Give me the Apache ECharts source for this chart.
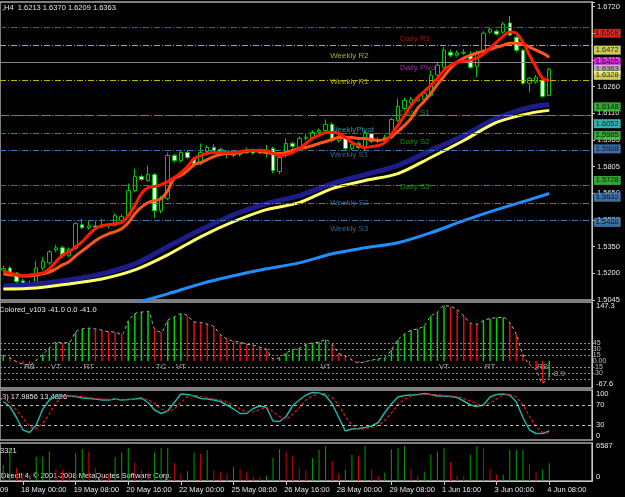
<!DOCTYPE html>
<html>
<head>
<meta charset="utf-8">
<script src="https://cdn.jsdelivr.net/npm/echarts@6/dist/echarts.min.js"></script>
<style>
  html, body { margin: 0; padding: 0; background: #000; }
  #chart { width: 625px; height: 497px; }
</style>
</head>
<body>
<div id="chart"></div>
<script>
// H4 candles
const opens = [1.5215,1.5228,1.5198,1.5154,1.5138,1.5142,1.5228,1.5257,1.5330,1.5343,
  1.5300,1.5340,1.5475,1.5458,1.5468,1.5462,1.5475,1.5472,1.5500,1.5526,
  1.5670,1.5750,1.5727,1.5761,1.5555,1.5624,1.5870,1.5841,1.5887,1.5853,
  1.5824,1.5893,1.5916,1.5905,1.5887,1.5880,1.5875,1.5887,1.5899,1.5885,
  1.5895,1.5910,1.5778,1.5870,1.5939,1.5916,1.5968,1.5973,1.6002,1.6013,
  1.6048,1.5956,1.5968,1.5910,1.5939,1.5910,1.5995,1.5950,1.5960,1.5973,
  1.6071,1.6139,1.6174,1.6185,1.6191,1.6214,1.6329,1.6374,1.6460,1.6443,
  1.6455,1.6440,1.6380,1.6455,1.6575,1.6580,1.6575,1.6627,1.6546,1.6472,
  1.6283,1.6289,1.6300,1.6213];
const highs = [1.5240,1.5240,1.5205,1.5165,1.5155,1.5268,1.5290,1.5330,1.5360,1.5355,
  1.5345,1.5490,1.5510,1.5495,1.5500,1.5510,1.5485,1.5540,1.5535,1.5710,
  1.5795,1.5760,1.5813,1.5770,1.5640,1.5887,1.5880,1.5895,1.5900,1.5860,
  1.5939,1.5930,1.5935,1.5915,1.5900,1.5895,1.5900,1.5915,1.5910,1.5912,
  1.5930,1.5920,1.5870,1.5968,1.5950,1.5980,1.5990,1.6015,1.6025,1.6076,
  1.6060,1.5990,1.5975,1.5945,1.5950,1.6010,1.6000,1.5975,1.5990,1.6085,
  1.6197,1.6200,1.6205,1.6210,1.6240,1.6357,1.6400,1.6490,1.6475,1.6470,
  1.6478,1.6465,1.6470,1.6580,1.6600,1.6590,1.6633,1.6667,1.6555,1.6480,
  1.6320,1.6330,1.6310,1.6370];
const lows = [1.5205,1.5195,1.5140,1.5128,1.5128,1.5135,1.5215,1.5245,1.5318,1.5285,
  1.5290,1.5332,1.5450,1.5448,1.5450,1.5455,1.5455,1.5465,1.5490,1.5520,
  1.5660,1.5725,1.5720,1.5515,1.5540,1.5615,1.5830,1.5830,1.5850,1.5810,
  1.5815,1.5885,1.5890,1.5875,1.5855,1.5860,1.5865,1.5880,1.5875,1.5878,
  1.5860,1.5770,1.5765,1.5860,1.5910,1.5905,1.5955,1.5965,1.5995,1.6005,
  1.5945,1.5945,1.5900,1.5900,1.5905,1.5900,1.5940,1.5940,1.5950,1.5965,
  1.6060,1.6130,1.6165,1.6175,1.6180,1.6205,1.6320,1.6365,1.6430,1.6435,
  1.6445,1.6365,1.6317,1.6440,1.6565,1.6555,1.6565,1.6550,1.6460,1.6275,
  1.6231,1.6280,1.6200,1.6209];
const closes = [1.5225,1.5200,1.5150,1.5137,1.5145,1.5228,1.5265,1.5320,1.5343,1.5297,
  1.5335,1.5481,1.5458,1.5468,1.5462,1.5475,1.5470,1.5526,1.5521,1.5670,
  1.5750,1.5733,1.5761,1.5555,1.5629,1.5870,1.5841,1.5887,1.5859,1.5824,
  1.5887,1.5916,1.5899,1.5887,1.5880,1.5872,1.5887,1.5899,1.5885,1.5899,
  1.5890,1.5784,1.5859,1.5939,1.5922,1.5968,1.5975,1.6002,1.6013,1.6048,
  1.5956,1.5975,1.5910,1.5933,1.5916,1.6002,1.5950,1.5960,1.5975,1.6076,
  1.6151,1.6185,1.6191,1.6197,1.6225,1.6329,1.6386,1.6472,1.6443,1.6455,
  1.6460,1.6374,1.6450,1.6569,1.6592,1.6564,1.6621,1.6558,1.6472,1.6283,
  1.6311,1.6317,1.6208,1.6363];

// fast moving averages, one reading per bar
const redMA = [1.5211,1.5200,1.5188,1.5182,1.5188,1.5194,1.5200,1.5223,1.5263,1.5303,
  1.5320,1.5349,1.5377,1.5418,1.5452,1.5470,1.5475,1.5481,1.5486,1.5526,
  1.5584,1.5652,1.5687,1.5693,1.5704,1.5721,1.5744,1.5773,1.5807,1.5853,
  1.5870,1.5882,1.5887,1.5887,1.5887,1.5887,1.5893,1.5899,1.5899,1.5899,
  1.5899,1.5882,1.5870,1.5876,1.5887,1.5910,1.5939,1.5968,1.5985,1.6002,
  1.6002,1.5996,1.5973,1.5944,1.5927,1.5916,1.5922,1.5927,1.5944,1.5990,
  1.6042,1.6099,1.6157,1.6203,1.6237,1.6271,1.6311,1.6357,1.6386,1.6403,
  1.6409,1.6415,1.6426,1.6449,1.6483,1.6518,1.6552,1.6575,1.6569,1.6518,
  1.6443,1.6374,1.6311,1.6300];
const orangeMA = [1.5194,1.5188,1.5188,1.5182,1.5182,1.5188,1.5194,1.5205,1.5223,1.5246,
  1.5263,1.5297,1.5326,1.5355,1.5383,1.5406,1.5423,1.5435,1.5452,1.5486,
  1.5538,1.5575,1.5601,1.5612,1.5624,1.5670,1.5740,1.5756,1.5784,1.5818,
  1.5830,1.5847,1.5864,1.5876,1.5882,1.5882,1.5887,1.5893,1.5899,1.5893,
  1.5887,1.5882,1.5882,1.5887,1.5899,1.5910,1.5916,1.5927,1.5939,1.5950,
  1.5962,1.5973,1.5973,1.5973,1.5968,1.5968,1.5962,1.5956,1.5962,1.5979,
  1.6008,1.6042,1.6082,1.6140,1.6180,1.6225,1.6277,1.6323,1.6369,1.6403,
  1.6426,1.6443,1.6455,1.6466,1.6477,1.6489,1.6500,1.6512,1.6512,1.6506,
  1.6489,1.6472,1.6455,1.6432];
// slow moving averages, read every few bars: [bar, price]
const navyMA = [[0,1.5125],[5,1.5137],[10,1.5160],[15,1.5194],[20,1.5251],[25,1.5349],
  [30,1.5446],[35,1.5532],[40,1.5595],[45,1.5641],[50,1.5710],[55,1.5761],[60,1.5813],
  [65,1.5899],[70,1.5985],[75,1.6082],[80,1.6145],[83,1.6162]];
const yellowMA = [[0,1.5108],[5,1.5114],[10,1.5137],[15,1.5165],[20,1.5217],[25,1.5303],
  [30,1.5406],[35,1.5492],[40,1.5561],[45,1.5601],[50,1.5681],[55,1.5727],[60,1.5767],
  [65,1.5859],[70,1.5956],[75,1.6059],[80,1.6111],[83,1.6128]];
const blueMA = [[10,1.4936],[15,1.4982],[20,1.5028],[25,1.5080],[30,1.5137],[35,1.5183],
  [40,1.5223],[45,1.5257],[50,1.5309],[55,1.5343],[60,1.5372],[65,1.5429],[70,1.5498],
  [75,1.5561],[80,1.5618],[83,1.5653]];

// pivot levels
const pivotNames = ['Daily R1','Weekly R2','Daily Pivot','Weekly R1','Daily S1','WeeklyPivot',
  'Daily S2','Weekly S1','Daily S3','Weekly S2','Weekly S3'];
const pivotLevels = [1.6568,1.6472,1.6405,1.6328,1.6148,1.6052,1.5985,1.5908,1.5728,1.5632,1.5488];
const bidPrice = 1.6363;
const priceTickLabels = ['1.5045','1.5200','1.5350','1.5500','1.5650','1.5805','1.5955',
  '1.6110','1.6260','1.6415','1.6565','1.6720'];

// Colored_v103 histogram
const cci = [15,8,-2,-8,-10,2,16,32,47,45,
  46,72,80,82,80,77,73,72,66,99,
  118,122,124,80,72,101,110,118,113,98,
  96,92,86,66,55,49,47,42,40,34,
  30,6,8,20,28,32,41,45,47,53,
  41,20,12,3,-5,-2,2,5,8,28,
  53,67,77,80,88,112,122,138,136,128,
  113,95,92,101,106,108,109,95,66,16,
  -9,-22,-55,-41];
const cciLevels = [45,30,15,-15,-30,-45];
const cciLevelLabels = [[45,'45'],[30,'30'],[15,'15'],[0,'0.00'],[-15,'-15'],[-30,'-30']];
const signalText = ['RB','VT','RT','TC','VT','VT','VT','RT','RB'];
const signalBars = [4,8,13,24,27,49,67,74,82];

// stochastic
const stochK = [77,67,45,20,15,30,62,80,88,88,
  88,87,84,83,82,80,80,82,80,81,
  82,84,75,60,53,58,75,92,91,88,
  83,82,80,77,70,62,53,53,63,68,
  65,38,37,47,69,80,90,95,94,89,
  72,45,18,22,23,25,28,35,55,72,
  86,89,90,91,93,91,88,88,87,85,
  78,70,67,70,86,91,92,90,76,45,
  20,13,13,18];
const stochD = [84,74,60,44,27,22,33,52,75,86,
  88,88,87,85,83,82,81,81,81,81,
  81,82,81,73,62,57,62,75,87,90,
  87,84,82,80,76,70,62,56,56,61,
  65,57,47,41,51,65,80,88,93,93,
  85,70,47,30,21,23,25,29,39,54,
  71,82,88,90,91,91,91,89,88,87,
  83,78,72,69,74,82,90,91,86,70,
  47,26,15,13.5];

// tick volume
const volumes = [3000,6200,2470,1500,1200,4500,4600,5540,2160,2000,
  1800,5200,5970,5540,2470,1500,1200,4500,5350,6270,
  3510,2000,1500,5350,6160,6160,3390,1400,1850,5350,
  5110,5850,2000,1660,1480,2660,2290,1600,830,810,
  920,4320,5970,5540,4740,2470,2000,4320,5850,6587,
  3820,1420,2160,4930,4740,6587,2160,920,1550,5970,
  6160,6587,2290,1050,1660,4930,5540,6160,3510,1050,
  920,4930,6587,6160,2290,1240,1240,5850,5850,5850,
  3270,1660,2160,3321];

// bar times: H4 from Fri 15 May 2009 12:00, weekends skipped
const months = ['Jan','Feb','Mar','Apr','May','Jun'];
const times = [];
let t = Date.UTC(2009, 4, 15, 12);
while (times.length < opens.length) {
  const d = new Date(t);
  const wd = d.getUTCDay();
  if (wd !== 0 && wd !== 6) {
    times.push(d.getUTCDate() + ' ' + months[d.getUTCMonth()] + ' ' +
      String(d.getUTCHours()).padStart(2, '0') + ':00');
  }
  t += 4 * 3600 * 1000;
}
const cats = times.concat(['p1','p2','p3','p4','p5','p6']); // chart shift space
const lastCat = cats.length - 1;

const FONT = 'Liberation Sans';
const TXT = '#e6e6e6';
const AXIS = '#c8c8c8';

const dashDot = [6, 2, 1, 2];
const pivotStyle = {
  'Daily R1':    { line: '#e01c1c', text: '#cc1818', box: '#ff2424', type: dashDot },
  'Weekly R2':   { line: '#b8b400', text: '#d8d030', box: '#ffff70', type: dashDot },
  'Daily Pivot': { line: '#c000c0', text: '#c838c8', box: '#ff30ff', type: [7, 4] },
  'Weekly R1':   { line: '#b8b400', text: '#d8d030', box: '#ffff70', type: dashDot },
  'Daily S1':    { line: '#00a800', text: '#28a828', box: '#44cc44', type: dashDot },
  'WeeklyPivot': { line: '#20a0a0', text: '#40b0d0', box: '#40dcdc', type: [9, 5] },
  'Daily S2':    { line: '#00a800', text: '#28a828', box: '#44cc44', type: dashDot },
  'Weekly S1':   { line: '#3a78b0', text: '#3c80b8', box: '#4a88c8', type: dashDot },
  'Daily S3':    { line: '#00a800', text: '#28a828', box: '#44cc44', type: dashDot },
  'Weekly S2':   { line: '#3a78b0', text: '#3c80b8', box: '#4a88c8', type: dashDot },
  'Weekly S3':   { line: '#3a78b0', text: '#3c80b8', box: '#4a88c8', type: dashDot }
};

const pivotLines = pivotNames.map((n, i) => ({
  yAxis: pivotLevels[i],
  lineStyle: { color: pivotStyle[n].line, type: pivotStyle[n].type, width: 1 }
}));
pivotLines.push({ yAxis: bidPrice, lineStyle: { color: '#8a8a8a', type: 'solid', width: 1 } });

// price boxes on the right scale, drawn in order so later ones sit on top
const priceBoxes = pivotNames.map((n, i) => ({
  value: [lastCat, pivotLevels[i]], name: pivotLevels[i].toFixed(4),
  label: { backgroundColor: pivotStyle[n].box }
}));
priceBoxes.splice(3, 0, { value: [lastCat, bidPrice], name: bidPrice.toFixed(4),
  label: { backgroundColor: '#d4d4d4' } });

const pivotTexts = pivotNames.map((n, i) => {
  const daily = n.indexOf('Daily') === 0;
  return {
    value: [daily ? 60 : 50, pivotLevels[i]],
    name: n,
    label: { color: pivotStyle[n].text, position: [daily ? 2 : -2, 2] }
  };
});

const grids = [
  { top: 2, height: 298 },
  { top: 302, height: 86 },
  { top: 390, height: 50 },
  { top: 443, height: 38 }
].map(g => Object.assign({ left: -4, right: 33, show: true, borderColor: '#a8a8a8',
  borderWidth: 1.5, backgroundColor: 'transparent' }, g));

const showTime = (i) => i % 8 === 3 && i < opens.length;
const xAxes = grids.map((g, k) => ({
  type: 'category', gridIndex: k, data: cats, boundaryGap: true,
  axisLine: { show: k === 3, lineStyle: { color: AXIS } },
  axisTick: { show: k === 3, interval: showTime, alignWithLabel: true, length: 4,
    lineStyle: { color: AXIS } },
  axisLabel: { show: k === 3, interval: showTime, align: 'left', margin: 5,
    color: TXT, fontSize: 7.5, fontFamily: FONT, padding: [0, 0, 0, -2] },
  splitLine: { show: false }
}));

const yBase = {
  position: 'right', splitLine: { show: false },
  axisLine: { show: true, lineStyle: { color: AXIS } },
  axisTick: { show: false },
  axisLabel: { color: TXT, fontSize: 7.5, fontFamily: FONT, margin: 4,
    showMinLabel: true, showMaxLabel: true,
    verticalAlignMinLabel: 'bottom', verticalAlignMaxLabel: 'top' }
};
const yAxes = [
  Object.assign({}, yBase, {
    gridIndex: 0, min: 1.5045, max: 1.67469, interval: 0.015227,
    axisTick: { show: true, length: 3, lineStyle: { color: AXIS } },
    axisLabel: { color: TXT, fontSize: 7.5, fontFamily: FONT, margin: 5,
      formatter: (v, i) => priceTickLabels[i] || '' }
  }),
  Object.assign({}, yBase, {
    gridIndex: 1, min: -67.6, max: 147.3, interval: 214.9,
    axisLabel: Object.assign({}, yBase.axisLabel,
      { formatter: v => (v === -67.6 || v === 147.3) ? v.toFixed(1) : '' })
  }),
  Object.assign({}, yBase, {
    gridIndex: 2, min: 0, max: 100, interval: 10,
    axisLabel: Object.assign({}, yBase.axisLabel,
      { formatter: v => [0, 30, 70, 100].indexOf(v) >= 0 ? String(v) : '' })
  }),
  Object.assign({}, yBase, {
    gridIndex: 3, min: 0, max: 7150, interval: 6587,
    axisLabel: Object.assign({}, yBase.axisLabel,
      { formatter: v => (v === 0 || v === 6587) ? String(v) : '' })
  })
];

function maLine(data, color, width, z) {
  return { type: 'line', xAxisIndex: 0, yAxisIndex: 0, data, symbol: 'none', smooth: 0.3,
    lineStyle: { color, width }, z, silent: true };
}

// labels hung just right of the scale line, from the last (empty) category
function edgeLabels(k, data, label, z) {
  return { type: 'scatter', xAxisIndex: k, yAxisIndex: k, data, z, silent: true,
    symbolSize: 0.1, itemStyle: { color: 'transparent' }, clip: false,
    labelLayout: { hideOverlap: false },
    label: Object.assign({ show: true, formatter: '{b}', position: 'right', distance: 5,
      fontSize: 7.5, fontFamily: FONT }, label) };
}

const series = [
  { type: 'line', xAxisIndex: 0, yAxisIndex: 0, data: [], z: 1, silent: true,
    markLine: { symbol: ['none', 'none'], silent: true, animation: false,
      label: { show: false }, data: pivotLines } },
  { type: 'scatter', xAxisIndex: 0, yAxisIndex: 0, data: pivotTexts, z: 1, silent: true,
    symbolSize: 0.1, itemStyle: { color: 'transparent' }, labelLayout: { hideOverlap: false },
    label: { show: true, formatter: '{b}', fontSize: 8, fontFamily: FONT } },
  { type: 'candlestick', xAxisIndex: 0, yAxisIndex: 0, z: 2, barWidth: 4,
    data: opens.map((o, i) => [o, closes[i], lows[i], highs[i]]),
    itemStyle: { color: '#000', color0: '#fff', borderColor: '#00c800',
      borderColor0: '#00c800', borderWidth: 1 } },
  maLine(blueMA, '#1e8fff', 3, 3),
  maLine(navyMA, '#1c1c8a', 5, 3),
  maLine(yellowMA, '#ffff66', 3, 4),
  maLine(orangeMA, '#ff5418', 3, 5),
  maLine(redMA, '#ff1a00', 3, 6),
  edgeLabels(0, priceBoxes, { color: '#000', padding: [1, 2, 0, 2] }, 10),

  { type: 'bar', xAxisIndex: 1, yAxisIndex: 1, barWidth: 1.5, silent: true,
    data: cci.map((v, i) => ({ value: v,
      itemStyle: { color: (i === 0 || v >= cci[i - 1]) ? '#00d400' : '#e01010' } })),
    markLine: { symbol: ['none', 'none'], silent: true, animation: false,
      label: { show: false },
      lineStyle: { color: '#8c8c8c', type: [2, 2], width: 1 },
      data: cciLevels.map(v => ({ yAxis: v })) } },
  { type: 'line', xAxisIndex: 1, yAxisIndex: 1, data: cci, symbol: 'none', smooth: 0.3,
    silent: true, lineStyle: { color: '#b4b4b4', width: 1, type: [3, 3] } },
  { type: 'scatter', xAxisIndex: 1, yAxisIndex: 1, silent: true, symbolSize: 0.1,
    itemStyle: { color: 'transparent' }, labelLayout: { hideOverlap: false },
    data: signalBars.map((b, k) => ({ value: [b, -15], name: signalText[k] }))
      .concat([{ value: [83, -35], name: '-8.9', label: { position: [2, -5] } }]),
    label: { show: true, formatter: '{b}', position: 'inside', color: '#c8c8c8',
      fontSize: 8, fontFamily: FONT } },
  edgeLabels(1, cciLevelLabels.map(([v, s]) => ({ value: [lastCat, v], name: s })),
    { color: TXT, fontSize: 7, distance: 4 }, 10),

  { type: 'line', xAxisIndex: 2, yAxisIndex: 2, data: stochK, symbol: 'none', silent: true,
    lineStyle: { color: '#20b0a8', width: 1.5 },
    markLine: { symbol: ['none', 'none'], silent: true, animation: false, label: { show: false },
      lineStyle: { color: '#c0c0c0', type: [3, 3], width: 1 },
      data: [{ yAxis: 70 }, { yAxis: 30 }] } },
  { type: 'line', xAxisIndex: 2, yAxisIndex: 2, data: stochD, symbol: 'none', silent: true,
    lineStyle: { color: '#e01818', width: 1.2, type: [3, 2] } },

  { type: 'bar', xAxisIndex: 3, yAxisIndex: 3, barWidth: 1, silent: true,
    data: volumes.map((v, i) => ({ value: v,
      itemStyle: { color: (i === 0 || v >= volumes[i - 1]) ? '#00a000' : '#d00000' } })) }
];

const textStyle = { fill: TXT, font: '7.5px "Liberation Sans"' };
const graphic = [
  { type: 'text', left: 2, top: 4, style: Object.assign({ text: ',H4  1.6213 1.6370 1.6209 1.6363' }, textStyle) },
  { type: 'text', left: -1, top: 306, style: Object.assign({ text: 'Colored_v103 -41.0 0.0 -41.0' }, textStyle) },
  { type: 'text', left: 0, top: 393, style: Object.assign({ text: ',3) 17.9856 13.4826' }, textStyle) },
  { type: 'text', left: 0, top: 447, style: Object.assign({ text: '3321' }, textStyle) },
  { type: 'text', left: 1, top: 472, style: Object.assign({ text: 'Direct! 4, \u00a9 2001-2008 MetaQuotes Software Corp.' }, textStyle) },
  { type: 'text', left: 0, top: 486, style: Object.assign({ text: '09' }, textStyle) }
];

const chart = echarts.init(document.getElementById('chart'));
chart.setOption({
  backgroundColor: '#000',
  animation: false,
  grid: grids,
  xAxis: xAxes,
  yAxis: yAxes,
  series,
  graphic
});
</script>
</body>
</html>
